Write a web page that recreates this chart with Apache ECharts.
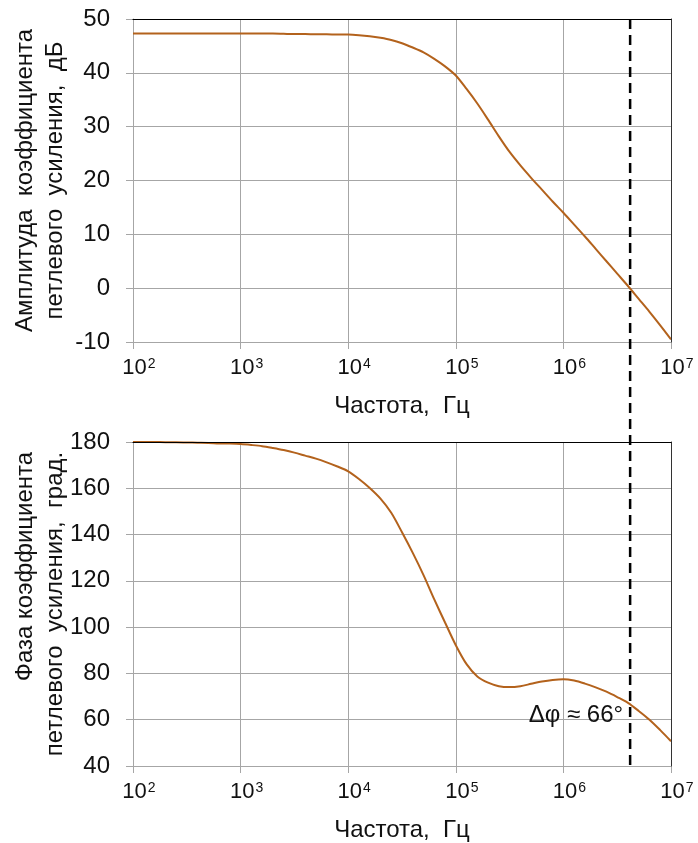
<!DOCTYPE html>
<html>
<head>
<meta charset="utf-8">
<script src="https://cdn.jsdelivr.net/npm/echarts@6/dist/echarts.min.js"></script>
<style>
  html, body { margin: 0; padding: 0; background: #fff; }
  #chart { width: 698px; height: 843px; }
</style>
</head>
<body>
<div id="chart"></div>
<script>
// lg(частоты, Гц), шаг 0.1 декады — общие для обоих графиков
var logFreq = [2, 2.1, 2.2, 2.3, 2.4, 2.5, 2.6, 2.7, 2.8, 2.9,
  3, 3.1, 3.2, 3.3, 3.4, 3.5, 3.6, 3.7, 3.8, 3.9,
  4, 4.1, 4.2, 4.3, 4.4, 4.5, 4.6, 4.7, 4.8, 4.9,
  5, 5.1, 5.2, 5.3, 5.4, 5.5, 5.6, 5.7, 5.8, 5.9,
  6, 6.1, 6.2, 6.3, 6.4, 6.5, 6.6, 6.7, 6.8, 6.9, 7]
// амплитуда, дБ
var ampDb = [47.3, 47.3, 47.3, 47.3, 47.3, 47.3, 47.3, 47.3, 47.3, 47.3,
  47.3, 47.3, 47.3, 47.3, 47.25, 47.2, 47.2, 47.15, 47.15, 47.1,
  47.1, 47.0, 46.8, 46.5, 46.1, 45.5, 44.7, 43.8, 42.6, 41.2,
  39.5, 37.0, 34.3, 31.3, 28.2, 25.3, 22.8, 20.5, 18.3, 16.1,
  14.0, 11.8, 9.6, 7.3, 5.0, 2.7, 0.4, -2.0, -4.4, -6.9, -9.5]
// фаза, град.
var phaseDeg = [180, 180, 180, 179.9, 179.9, 179.8, 179.7, 179.6, 179.4, 179.3,
  179.1, 178.7, 178.2, 177.4, 176.5, 175.4, 174.1, 172.8, 171.2, 169.4,
  167.3, 164.0, 160.1, 155.5, 149.4, 141.0, 132.1, 122.5, 112.0, 102.0,
  92.2, 84.0, 78.7, 76.0, 74.5, 74.1, 74.5, 75.5, 76.5, 77.2,
  77.5, 76.9, 75.6, 74.0, 72.1, 69.8, 67.3, 63.8, 60.0, 55.5, 50.7]

// частота среза (пунктир) и запас по фазе
var fCross = 4.17e6
var phaseNote = 'Δφ ≈ 66°'

var ampTicks = { min: -10, max: 50, step: 10 }
var phTicks = { min: 40, max: 180, step: 20 }

var lineColor = '#b3621c'
var gridGray = '#a6a6a6'
var font = '"Liberation Sans", Arial, sans-serif'

function pair (ys) {
  return logFreq.map(function (d, i) { return [Math.pow(10, d), ys[i]] })
}

function xAxisCfg (idx) {
  return {
    type: 'log',
    gridIndex: idx,
    logBase: 10,
    min: 1e2,
    max: 1e7,
    name: 'Частота,  Гц',
    nameLocation: 'middle',
    nameGap: 52,
    nameMoveOverlap: false,
    nameTextStyle: { fontFamily: font, fontSize: 24, color: '#111' },
    axisLine: { show: true, onZero: false, lineStyle: { color: gridGray, width: 1 } },
    axisTick: { show: true, length: 7, lineStyle: { color: gridGray } },
    minorTick: { show: false },
    splitLine: { show: true, lineStyle: { color: gridGray, width: 1 } },
    axisLabel: {
      margin: 15,
      padding: [0, 0, 0, 12],
      fontFamily: font,
      color: '#111',
      formatter: function (v) {
        var e = Math.round(Math.log(v) / Math.LN10)
        return '{b|10}{s|' + e + '}'
      },
      rich: {
        b: { fontFamily: font, fontSize: 22, color: '#111' },
        s: { fontFamily: font, fontSize: 14, color: '#111', padding: [0, 0, 8, 1] }
      }
    }
  }
}

var nameRich = {
  c: { fontFamily: font, fontSize: 24, lineHeight: 30, color: '#111', align: 'center' },
  r: { fontFamily: font, fontSize: 24, lineHeight: 30, color: '#111', align: 'right' }
}

function yAxisCfg (idx, t, name) {
  return {
    type: 'value',
    gridIndex: idx,
    min: t.min,
    max: t.max,
    interval: t.step,
    name: name,
    nameLocation: 'middle',
    nameRotate: 90,
    nameGap: 63,
    nameMoveOverlap: false,
    nameTextStyle: { fontFamily: font, fontSize: 24, lineHeight: 30, color: '#111', rich: nameRich },
    axisLine: { show: true, onZero: false, lineStyle: { color: gridGray, width: 1 } },
    axisTick: { show: true, length: 7, lineStyle: { color: gridGray } },
    splitLine: { show: true, lineStyle: { color: gridGray, width: 1 } },
    axisLabel: { margin: 23, fontFamily: font, fontSize: 24, color: '#111' }
  }
}

// верхняя и правая рамка — чёрная линия
function frameX (idx) {
  return {
    type: 'log', gridIndex: idx, logBase: 10, min: 1e2, max: 1e7, position: 'top', z: 5,
    axisLine: { show: true, onZero: false, lineStyle: { color: '#000', width: 1 } },
    axisTick: { show: false }, axisLabel: { show: false }, splitLine: { show: false }
  }
}
function frameY (idx, t) {
  return {
    type: 'value', gridIndex: idx, min: t.min, max: t.max, interval: t.step, position: 'right', z: 5,
    axisLine: { show: true, onZero: false, lineStyle: { color: '#333', width: 1 } },
    axisTick: { show: false }, axisLabel: { show: false }, splitLine: { show: false }
  }
}

var chart = echarts.init(document.getElementById('chart'))
var option = {
  backgroundColor: '#fff',
  animation: false,
  grid: [
    { left: 133, right: 27, top: 19, height: 323, containLabel: false, outerBoundsMode: 'none' },
    { left: 133, right: 27, top: 442, height: 324, containLabel: false, outerBoundsMode: 'none' }
  ],
  xAxis: [xAxisCfg(0), xAxisCfg(1), frameX(0), frameX(1)],
  yAxis: [
    yAxisCfg(0, ampTicks, '{c|Амплитуда  коэффициента}\n{c|петлевого  усиления,  дБ}'),
    yAxisCfg(1, phTicks, '{r|Фаза коэффициента}\n{r|петлевого  усиления,  град.}'),
    frameY(0, ampTicks),
    frameY(1, phTicks)
  ],
  series: [
    {
      type: 'line', xAxisIndex: 0, yAxisIndex: 0,
      data: pair(ampDb),
      smooth: 0.3, showSymbol: false, z: 3,
      lineStyle: { color: lineColor, width: 2 }
    },
    {
      type: 'line', xAxisIndex: 1, yAxisIndex: 1,
      data: pair(phaseDeg),
      smooth: 0.3, showSymbol: false, z: 3,
      lineStyle: { color: lineColor, width: 2 }
    }
  ]
}
chart.setOption(option)

// пунктир через оба графика + подпись запаса по фазе
var pTop = chart.convertToPixel({ gridIndex: 0 }, [fCross, ampTicks.max])
var pBot = chart.convertToPixel({ gridIndex: 1 }, [fCross, phTicks.min])
var pNote = chart.convertToPixel({ gridIndex: 1 }, [fCross, 62])
chart.setOption({
  graphic: [
    {
      type: 'line',
      z: 100,
      shape: { x1: pTop[0], y1: pTop[1], x2: pBot[0], y2: pBot[1] },
      style: { stroke: '#000', lineWidth: 2.5, lineDash: [10, 6] }
    },
    {
      type: 'text',
      z: 100,
      x: pNote[0] - 7,
      y: pNote[1],
      style: {
        text: phaseNote, fontFamily: font, fontSize: 24, fill: '#111',
        align: 'right', verticalAlign: 'middle'
      }
    }
  ]
})
</script>
</body>
</html>
